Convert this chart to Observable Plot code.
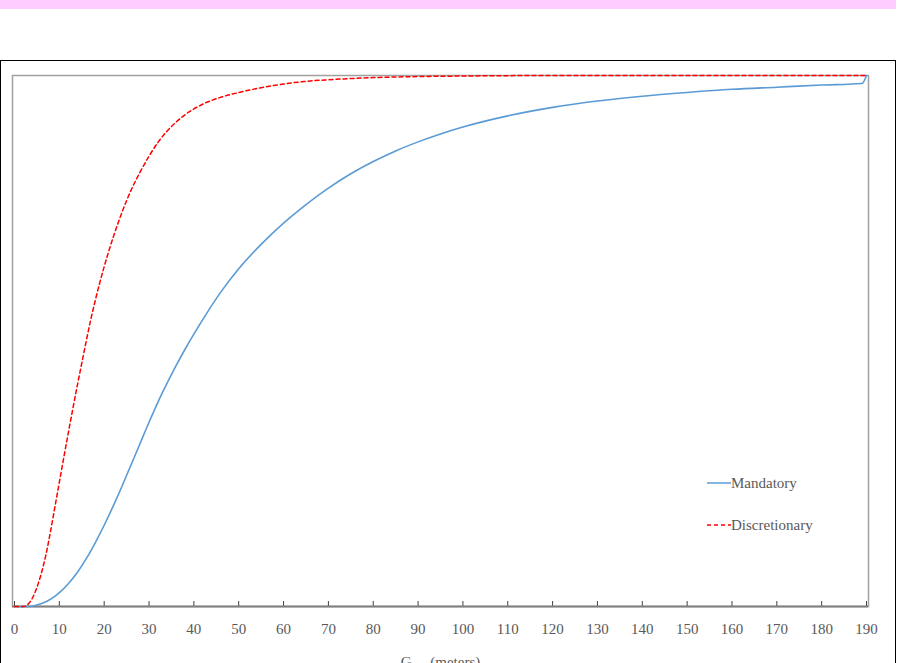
<!DOCTYPE html>
<html><head><meta charset="utf-8">
<script src="https://cdn.jsdelivr.net/npm/d3@7"></script>
<script src="https://cdn.jsdelivr.net/npm/@observablehq/plot@0.6"></script>
<style>
html,body{margin:0;padding:0;background:#fff;overflow:hidden;}
#wrap{position:relative;width:904px;height:663px;overflow:hidden;}
#pink{position:absolute;left:0;top:0;width:896px;height:9px;background:#ffccff;}
#box{position:absolute;left:0;top:60px;width:896px;height:700px;border:1.5px solid #000;box-sizing:border-box;}
#chart{position:absolute;left:0;top:0;}
#legend{position:absolute;left:707px;top:472px;font-family:"Liberation Serif",serif;font-size:15px;color:#595959;}
#legend .row{display:flex;align-items:center;height:22px;}
#legend .row + .row{margin-top:20px;}
#legend svg{display:block;}
</style></head>
<body>
<div id="wrap">
  <div id="pink"></div>
  <div id="box"></div>
  <div id="chart"></div>
  <div id="legend"></div>
</div>
<script>
const xTicks = [0,10,20,30,40,50,60,70,80,90,100,110,120,130,140,150,160,170,180,190];
const seriesNames = ["Mandatory", "Discretionary"];

const mandX = [0,3,5,7,9,10,12,14,16,18,20,22,24,26,28,30,32,34,36,38,40,43,46,50,55,60,65,70,75,80,85,90,95,100,110,120,130,140,150,160,170,180,189,190];
const mandY = [0,0,0.003,0.009,0.019,0.026,0.043,0.064,0.09,0.12,0.153,0.189,0.227,0.267,0.307,0.347,0.385,0.42,0.453,0.484,0.513,0.554,0.592,0.636,0.682,0.722,0.757,0.788,0.815,0.838,0.858,0.875,0.89,0.903,0.924,0.94,0.952,0.961,0.968,0.974,0.978,0.982,0.985,1];

const discX = [0,2,3,4,5,6,7,8,9,10,11,12,13,14,15,16,17,18,20,22,24,26,28,30,32,34,36,38,40,43,46,50,55,60,65,70,80,90,100,120,190];
const discY = [0,0,0.004,0.016,0.036,0.063,0.097,0.14,0.187,0.234,0.281,0.327,0.372,0.416,0.458,0.5,0.54,0.576,0.64,0.695,0.743,0.784,0.818,0.848,0.874,0.895,0.912,0.926,0.937,0.95,0.959,0.968,0.977,0.984,0.989,0.992,0.996,0.998,0.999,1,1];

const mandatory = mandX.map((x,i)=>({x, y: mandY[i]}));
const discretionary = discX.map((x,i)=>({x, y: discY[i]}));

const blue = "#5b9bd5", red = "#ff0000";

const plot = Plot.plot({
  width: 904, height: 663,
  marginTop: 75, marginBottom: 57, marginLeft: 12, marginRight: 36,
  x: {domain: [0,190], insetLeft: 2, insetRight: 2},
  y: {domain: [0,1], axis: null},
  style: {background: "transparent", fontFamily: "'Liberation Serif', serif", fontSize: "15px", color: "#595959", overflow: "visible"},
  marks: [
    Plot.frame({stroke: "#a0a0a0", strokeWidth: 1.5}),
    Plot.axisX(xTicks, {tickSize: -5, tickPadding: 22, stroke: "#404040", fill: "#595959",
      label: "G\u00a0\u00a0\u00a0\u00a0\u00a0(meters)", labelAnchor: "center", labelOffset: 60, labelArrow: "none"}),
    Plot.ruleY([0], {stroke: "#808080", strokeWidth: 2}),
    Plot.line(mandatory, {x: "x", y: "y", stroke: blue, strokeWidth: 1.6, curve: "monotone-x"}),
    Plot.line(discretionary, {x: "x", y: "y", stroke: red, strokeWidth: 1.5, strokeDasharray: "4,3", curve: "monotone-x"})
  ]
});
document.getElementById("chart").appendChild(plot);

const legend = document.getElementById("legend");
seriesNames.forEach((name, i) => {
  const row = document.createElement("div");
  row.className = "row";
  const dash = i === 1 ? 'stroke-dasharray="4,3"' : '';
  row.innerHTML = `<svg width="24" height="4"><line x1="0" x2="24" y1="2" y2="2" stroke="${i===0?blue:red}" stroke-width="1.5" ${dash}/></svg><span>${name}</span>`;
  legend.appendChild(row);
});
</script>
</body></html>
